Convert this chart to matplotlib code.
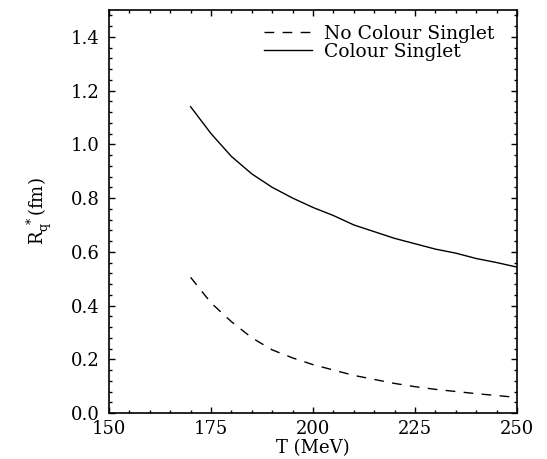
import matplotlib
matplotlib.use("Agg")
import matplotlib.pyplot as plt
from matplotlib.ticker import MultipleLocator

plt.rcParams['font.family'] = ['DejaVu Serif']
plt.rcParams['mathtext.fontset'] = 'dejavuserif'

T = [170, 175, 180, 185, 190, 195, 200, 205, 210, 215, 220, 225, 230, 235, 240, 245, 250]
no_singlet = [0.505, 0.41, 0.34, 0.28, 0.235, 0.205, 0.18, 0.16, 0.14, 0.125, 0.11,
              0.098, 0.088, 0.08, 0.072, 0.065, 0.058]
singlet = [1.14, 1.04, 0.955, 0.89, 0.84, 0.80, 0.765, 0.735, 0.70, 0.675, 0.65,
           0.63, 0.61, 0.595, 0.575, 0.56, 0.543]
xticks = [150, 175, 200, 225, 250]
yticks = [0.0, 0.2, 0.4, 0.6, 0.8, 1.0, 1.2, 1.4]

fig = plt.figure(figsize=(5.47, 4.59), dpi=100)
ax = fig.add_axes([109/547, 1-413/459, (517-109)/547, (413-10)/459])

ax.plot(T, no_singlet, color='black', lw=1.0, dashes=(7, 6), label='No Colour Singlet')
ax.plot(T, singlet, color='black', lw=1.0, label='Colour Singlet')

ax.set_xlim(150, 250)
ax.set_ylim(0, 1.5)
ax.set_xticks(xticks)
ax.set_xticklabels([str(x) for x in xticks])
ax.set_yticks(yticks)
ax.set_yticklabels([f"{y:.1f}" for y in yticks])
ax.xaxis.set_minor_locator(MultipleLocator(5))
ax.yaxis.set_minor_locator(MultipleLocator(0.04))
ax.tick_params(which='both', direction='in', top=True, right=True, labelsize=13, width=1)
ax.tick_params(which='major', length=4.5, pad=7)
ax.tick_params(which='minor', length=2.5)
ax.tick_params(axis='x', which='major', pad=5)
for s in ax.spines.values():
    s.set_linewidth(1.2)

ax.set_xlabel('T (MeV)', fontsize=13, labelpad=1)
ax.set_ylabel(r'$\mathrm{R_q^{\ *}}$(fm)', fontsize=13, labelpad=12)

ax.legend(loc='upper right', bbox_to_anchor=(0.985, 1.005), frameon=False, fontsize=13.5,
          handlelength=2.6, handletextpad=0.6, labelspacing=0.0, borderaxespad=0.5)

fig.savefig('out.png', dpi=100)
